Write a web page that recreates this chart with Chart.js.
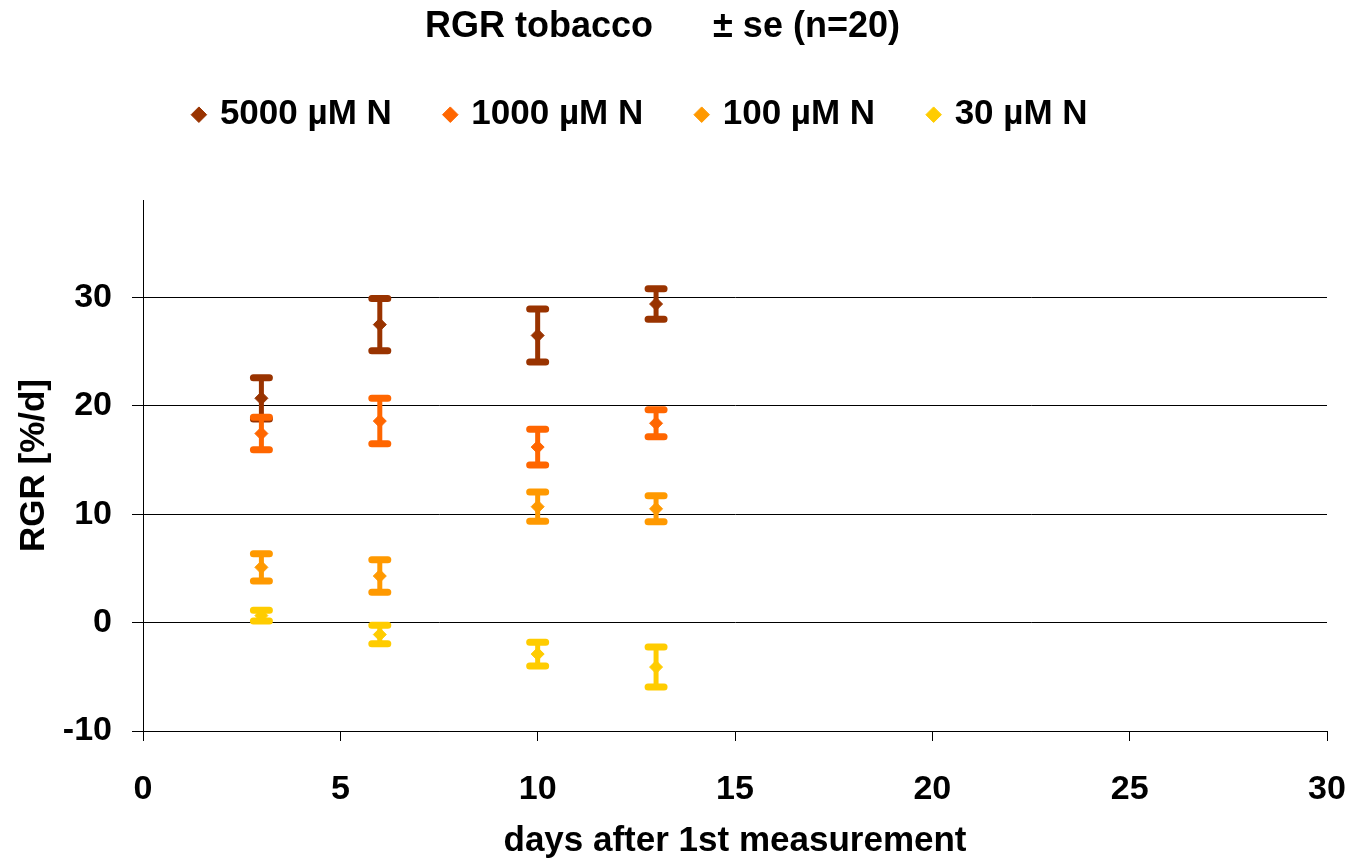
<!DOCTYPE html>
<html>
<head>
<meta charset="utf-8">
<script src="https://cdn.jsdelivr.net/npm/chart.js@4"></script>
<style>
  html, body { margin: 0; padding: 0; background: #fff; overflow: hidden; }
  #wrap { width: 1351px; height: 862px; }
</style>
</head>
<body>
<div id="wrap"><canvas id="rgr-chart"></canvas></div>
<script>
// days after 1st measurement
const days = [3, 6, 10, 13];

// mean RGR [%/d] per nitrogen level
const rgr5000 = [20.7, 27.5, 26.5, 29.4];
const rgr1000 = [17.45, 18.6, 16.2, 18.4];
const rgr100 = [5.1, 4.3, 10.7, 10.5];
const rgr30 = [0.65, -1.1, -2.9, -4.1];

// standard errors (n=20)
const se5000 = [1.9, 2.4, 2.45, 1.4];
const se1000 = [1.5, 2.1, 1.65, 1.25];
const se100 = [1.25, 1.5, 1.35, 1.2];
const se30 = [0.5, 0.85, 1.1, 1.85];

const seriesNames = ["5000 µM N", "1000 µM N", "100 µM N", "30 µM N"];
const seriesColors = ["#993300", "#FF6600", "#FF9900", "#FFCC00"];

const yTicks = [-10, 0, 10, 20, 30];

const FONT = "'Liberation Sans', Arial, sans-serif";

function makeSet(i, values, errors) {
  return {
    label: seriesNames[i],
    data: days.map((d, j) => ({ x: d, y: values[j] })),
    errors: errors,
    backgroundColor: seriesColors[i],
    borderColor: seriesColors[i],
    pointStyle: "rectRot",
    pointRadius: 6.5,
    pointHoverRadius: 6.5,
    borderWidth: 1,
    showLine: false,
  };
}

// draw the ± se bars behind the markers
const errorBars = {
  id: "errorBars",
  beforeDatasetsDraw(chart) {
    const { ctx } = chart;
    const y = chart.scales.y;
    chart.data.datasets.forEach((ds, i) => {
      const meta = chart.getDatasetMeta(i);
      ctx.save();
      ctx.strokeStyle = ds.borderColor;
      ctx.lineCap = "round";
      meta.data.forEach((pt, j) => {
        const v = ds.data[j].y;
        const e = ds.errors[j];
        const top = y.getPixelForValue(v + e);
        const bot = y.getPixelForValue(v - e);
        ctx.lineWidth = 5;
        ctx.beginPath();
        ctx.moveTo(pt.x, top);
        ctx.lineTo(pt.x, bot);
        ctx.stroke();
        ctx.lineWidth = 7;
        ctx.beginPath();
        ctx.moveTo(pt.x - 8, top);
        ctx.lineTo(pt.x + 8, top);
        ctx.moveTo(pt.x - 8, bot);
        ctx.lineTo(pt.x + 8, bot);
        ctx.stroke();
      });
      ctx.restore();
    });
  },
};

// title and legend sit a bit left of the page centre in the original
const LEGEND_SHIFT = 22;
const TITLE_SHIFT = 1;
const nudge = {
  id: "nudge",
  afterLayout(chart) {
    if (chart.legend) {
      chart.legend.left -= LEGEND_SHIFT;
      chart.legend.right -= LEGEND_SHIFT;
    }
    if (chart.titleBlock) {
      chart.titleBlock.left -= TITLE_SHIFT;
      chart.titleBlock.right -= TITLE_SHIFT;
    }
  },
};

const ctx = document.getElementById("rgr-chart").getContext("2d");
new Chart(ctx, {
  type: "scatter",
  data: {
    datasets: [
      makeSet(0, rgr5000, se5000),
      makeSet(1, rgr1000, se1000),
      makeSet(2, rgr100, se100),
      makeSet(3, rgr30, se30),
    ],
  },
  options: {
    responsive: true,
    maintainAspectRatio: false,
    animation: false,
    layout: { padding: { left: 0, right: 24, top: 0, bottom: 0 } },
    plugins: {
      title: {
        display: true,
        text: "RGR tobacco      ± se (n=20)",
        color: "#000",
        font: { family: FONT, size: 36, weight: "bold" },
        padding: { top: 5, bottom: -6 },
      },
      subtitle: {
        // empty spacer between legend and plot
        display: true,
        text: "",
        weight: 500,
        font: { size: 1 },
        padding: { top: 56.6, bottom: 0 },
      },
      legend: {
        display: true,
        position: "top",
        labels: {
          usePointStyle: true,
          boxWidth: 7,
          boxHeight: 11,
          padding: 55,
          color: "#000",
          font: { family: FONT, size: 35, weight: "bold" },
        },
      },
      tooltip: { enabled: false },
    },
    scales: {
      x: {
        type: "linear",
        min: 0,
        max: 30,
        ticks: {
          stepSize: 5,
          color: "#000",
          padding: 28,
          font: { family: FONT, size: 34, weight: "bold" },
        },
        grid: {
          drawOnChartArea: false,
          drawTicks: true,
          tickLength: 10,
          color: "#000",
        },
        border: { color: "#000", width: 1 },
        title: {
          display: true,
          text: "days after 1st measurement",
          color: "#000",
          font: { family: FONT, size: 35, weight: "bold" },
          padding: { top: 0, bottom: 0 },
        },
        afterFit(scale) {
          scale.height = 131;
          scale.paddingLeft = 0;
          scale.paddingRight = 0;
        },
      },
      y: {
        type: "linear",
        min: -10,
        max: 39,
        afterBuildTicks(scale) {
          scale.ticks = yTicks.map((v) => ({ value: v }));
        },
        ticks: {
          color: "#000",
          padding: 20,
          font: { family: FONT, size: 34, weight: "bold" },
        },
        grid: {
          color: "#000",
          lineWidth: 1,
          tickLength: 11,
        },
        border: { color: "#000", width: 1 },
        title: {
          display: true,
          text: "RGR [%/d]",
          color: "#000",
          font: { family: FONT, size: 35, weight: "bold" },
          padding: { top: 13, bottom: 0 },
        },
        afterFit(scale) {
          scale.width = 143;
          scale.paddingTop = 0;
          scale.paddingBottom = 0;
        },
      },
    },
  },
  plugins: [errorBars, nudge],
});
</script>
</body>
</html>
